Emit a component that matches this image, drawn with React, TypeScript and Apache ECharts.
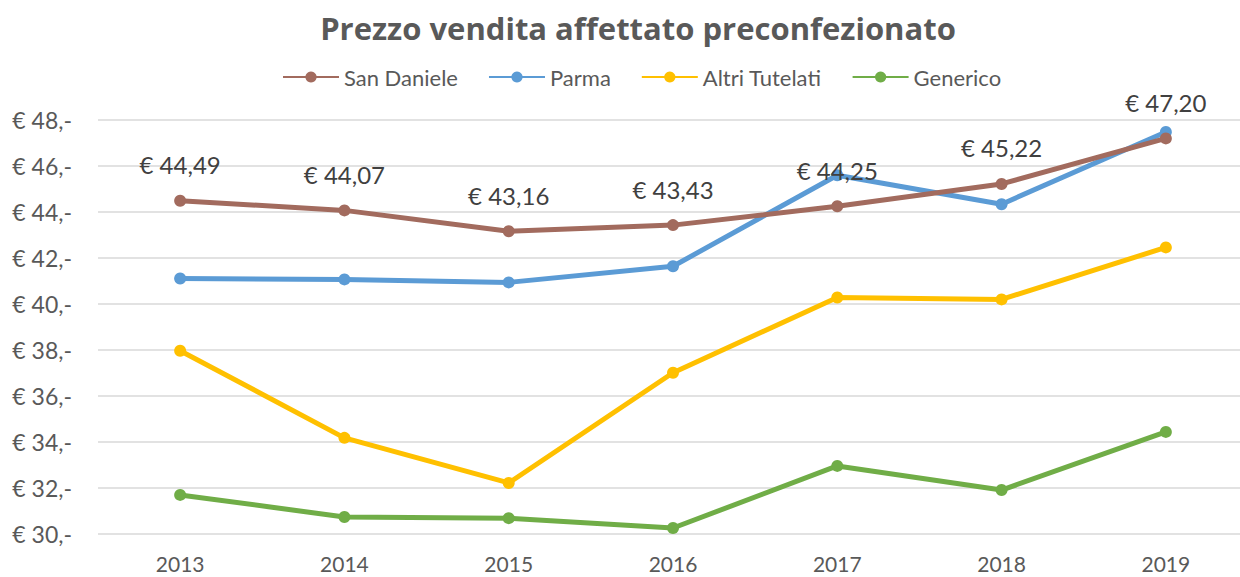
import React, { useEffect, useRef } from "react";
import * as echarts from "echarts";

const years = ["2013", "2014", "2015", "2016", "2017", "2018", "2019"];
const sanDaniele = [44.49, 44.07, 43.16, 43.43, 44.25, 45.22, 47.2];
const parma = [41.11, 41.07, 40.94, 41.64, 45.6, 44.34, 47.48];
const altriTutelati = [37.97, 34.18, 32.22, 37.01, 40.28, 40.2, 42.46];
const generico = [31.7, 30.74, 30.69, 30.26, 32.96, 31.91, 34.44];

const FONT = "Lato, 'Open Sans', sans-serif";

export default function App() {
  const ref = useRef<HTMLDivElement>(null);
  useEffect(() => {
    if (!ref.current) return;
    const chart = echarts.init(ref.current, undefined, { renderer: "svg" });
    const mk = (name: string, data: number[], color: string, labels = false) => ({
      name,
      type: "line",
      data,
      symbol: "circle",
      symbolSize: 12,
      lineStyle: { width: 5, color },
      itemStyle: { color },
      z: labels ? 3 : 2,
      label: labels
        ? {
            show: true,
            position: "top",
            distance: 18,
            fontFamily: FONT,
            fontSize: 24,
            color: "#404040",
            formatter: (p: any) => "€ " + Number(p.value).toFixed(2).replace(".", ","),
          }
        : { show: false },
    });
    chart.setOption({
      animation: false,
      backgroundColor: "#fff",
      title: {
        text: "Prezzo vendita affettato preconfezionato",
        left: 633,
        textAlign: "center",
        top: 7,
        textStyle: { fontFamily: "'Open Sans', sans-serif", fontSize: 31, fontWeight: "bold", color: "#595959" },
      },
      legend: {
        top: 61,
        left: 277,
        itemWidth: 56,
        itemHeight: 14,
        itemGap: 30,
        textStyle: { fontFamily: FONT, fontSize: 22, color: "#595959" },
        data: ["San Daniele", "Parma", "Altri Tutelati", "Generico"],
      },
      grid: { left: 98, top: 120, bottom: 43, right: 2 },
      xAxis: {
        type: "category",
        data: years,
        axisLine: { show: false },
        axisTick: { show: false },
        axisLabel: { fontFamily: FONT, fontSize: 21, lineHeight: 20, color: "#595959", margin: 19 },
      },
      yAxis: {
        type: "value",
        min: 30,
        max: 48,
        interval: 2,
        axisLine: { show: false },
        axisTick: { show: false },
        axisLabel: {
          fontFamily: FONT,
          fontSize: 23,
          color: "#595959",
          margin: 26,
          formatter: (v: number) => "€ " + v + ",-",
        },
        splitLine: { lineStyle: { color: "#D9D9D9", width: 1.5 } },
      },
      series: [
        mk("San Daniele", sanDaniele, "#A26B5E", true),
        mk("Parma", parma, "#5B9BD5"),
        mk("Altri Tutelati", altriTutelati, "#FFC000"),
        mk("Generico", generico, "#70AD47"),
      ],
    });
    return () => chart.dispose();
  }, []);
  return (
    <div
      style={{ position: "absolute", left: 0, top: 0, width: 1240, height: 577, overflow: "hidden" }}
    >
      <div ref={ref} style={{ width: 1250, height: 577 }} />
    </div>
  );
}
